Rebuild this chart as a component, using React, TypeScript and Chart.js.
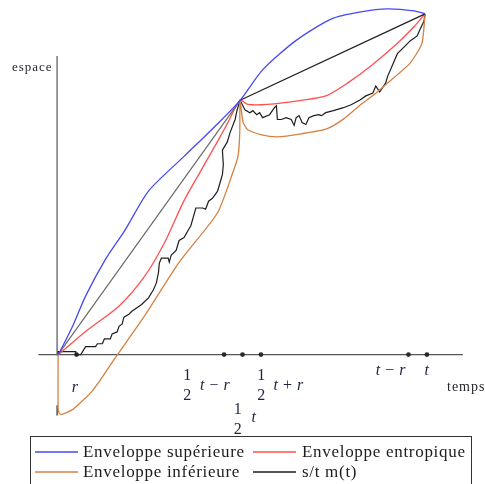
import { useEffect, useRef } from "react";
import { Chart, registerables } from "chart.js";

Chart.register(...registerables);

type Pt = [number, number];

// Space-time paths (time on x, space on y); r = 1, t = 20.
const upperEnvelope: Pt[] = [
  [0, 0], [0.11, 0.19], [0.8, 1.57], [1.49, 3.17], [2.56, 5.15], [3.63, 6.75],
  [4.91, 8.88], [6.83, 10.75], [8.64, 12.51], [9.87, 13.79], [11.09, 15.44],
  [12.91, 17.04], [14.83, 18.21], [16.43, 18.59], [17.87, 18.75], [19.31, 18.64],
  [19.9, 18.48],
];

const entropicEnvelope: Pt[] = [
  [0, 0], [0.11, 0.08], [1.49, 1.25], [3.31, 2.64], [4.69, 4.24], [5.76, 6.05],
  [6.83, 8.35], [7.73, 9.95], [8.64, 11.55], [9.17, 12.51], [9.87, 13.79],
  [10.29, 13.57], [11.36, 13.57], [13.17, 13.79], [14.56, 14.05], [15.73, 14.75],
  [16.96, 15.65], [18.4, 16.88], [19.31, 17.79], [19.9, 18.48],
];

const lowerEnvelope: Pt[] = [
  [0, 0], [0, -2.9], [0.05, -3.15], [0.16, -3.25], [0.8, -2.97], [1.87, -1.95],
  [3.09, -0.19], [4.69, 2.1], [6.56, 5.0], [8.64, 7.68], [9.5, 9.94],
  [9.76, 10.79], [9.85, 12.0], [9.87, 13.79], [10.03, 12.61], [10.29, 12.19],
  [11.04, 11.92], [11.89, 11.81], [13.17, 11.97], [14.56, 12.24], [15.47, 12.77],
  [16.37, 13.52], [17.07, 14.05], [17.76, 14.64], [19.09, 15.81], [19.73, 16.88],
  [19.9, 18.48],
];

const trajectory: Pt[] = [
  [0, 0], [0, 0.16], [0.96, 0.16], [0.96, 0], [1.23, 0], [1.49, 0.43], [2.03, 0.43],
  [2.13, 0.59], [2.4, 0.59], [2.51, 0.85], [2.83, 0.85], [2.93, 1.12], [3.2, 1.23],
  [3.31, 1.55], [3.47, 1.65], [3.57, 2.03], [3.84, 2.19], [4.0, 2.35], [4.53, 2.72],
  [4.91, 3.09], [5.17, 3.52], [5.33, 3.89], [5.44, 4.43], [5.49, 4.96], [5.6, 5.23],
  [5.97, 5.23], [6.03, 5.01], [6.13, 5.39], [6.4, 5.65], [6.56, 6.19], [6.83, 6.35],
  [7.04, 6.72], [7.2, 6.99], [7.47, 7.95], [7.84, 7.95], [8.0, 7.89], [8.16, 8.32],
  [8.37, 8.48], [8.64, 8.85], [8.69, 9.01], [8.91, 9.76], [8.96, 10.29], [8.91, 11.09],
  [9.17, 11.52], [9.33, 12.05], [9.6, 12.75], [9.71, 13.28], [9.87, 13.79],
  [10.13, 13.28], [10.4, 13.12], [10.56, 13.23], [10.77, 13.01], [10.93, 13.12],
  [11.09, 12.85], [11.47, 13.01], [11.73, 13.39], [11.84, 13.49], [11.89, 12.75],
  [12.11, 12.75], [12.37, 12.85], [12.64, 12.75], [12.8, 12.43], [12.91, 12.85],
  [13.07, 12.96], [13.23, 12.59], [13.44, 12.48], [13.6, 12.85], [13.87, 12.96],
  [14.13, 13.01], [14.29, 12.96], [14.51, 13.12], [14.93, 13.23], [15.47, 13.39],
  [15.89, 13.55], [16.37, 13.81], [16.69, 14.03], [17.07, 14.19], [17.23, 14.56],
  [17.44, 14.24], [17.76, 14.72], [17.87, 15.09], [18.4, 16.32], [18.77, 16.69],
  [19.09, 17.01], [19.47, 17.28], [19.63, 17.65], [19.84, 18.08], [19.9, 18.48],
];

const chord: Pt[] = [[0, 0], [9.87, 13.79], [19.9, 18.48]];

// Marked instants on the time axis: r, t/2 - r, t/2, t/2 + r, t - r, t
const markedTimes = [1, 9, 10, 11, 19, 20];

const legendItems = [
  { label: "Enveloppe supérieure", color: "rgb(72,72,245)" },
  { label: "Enveloppe entropique", color: "rgb(255,80,80)" },
  { label: "Enveloppe inférieure", color: "rgb(214,128,66)" },
  { label: "s/t m(t)", color: "#1e1e1e" },
];

const SERIF = "'Liberation Serif', 'Times New Roman', serif";
const INK = "#1d2440";

const toXY = (pts: Pt[]) => pts.map(([x, y]) => ({ x, y }));

type Part = [string, boolean];

function drawParts(ctx: CanvasRenderingContext2D, parts: Part[], x: number, y: number, size: number, align: "left" | "center") {
  let total = 0;
  for (const [text, italic] of parts) {
    ctx.font = `${italic ? "italic " : ""}${size}px ${SERIF}`;
    total += ctx.measureText(text).width;
  }
  let cx = align === "center" ? x - total / 2 : x;
  ctx.textAlign = "left";
  ctx.textBaseline = "middle";
  for (const [text, italic] of parts) {
    ctx.font = `${italic ? "italic " : ""}${size}px ${SERIF}`;
    ctx.fillText(text, cx, y);
    cx += ctx.measureText(text).width;
  }
}

function drawHalf(ctx: CanvasRenderingContext2D, cx: number, yTop: number) {
  drawParts(ctx, [["1", false]], cx, yTop, 16, "center");
  drawParts(ctx, [["2", false]], cx, yTop + 20, 16, "center");
}

const figurePlugin = {
  id: "figureOverlay",
  beforeDatasetsDraw(chart: any) {
    const { ctx } = chart;
    const xs = chart.scales.x;
    const ys = chart.scales.y;
    const x0 = xs.getPixelForValue(0);
    const y0 = ys.getPixelForValue(0);
    ctx.save();
    // time axis
    ctx.strokeStyle = "#555";
    ctx.lineWidth = 1.3;
    ctx.beginPath();
    ctx.moveTo(xs.getPixelForValue(-1.07), y0);
    ctx.lineTo(xs.getPixelForValue(21.95), y0);
    ctx.stroke();
    // space axis
    ctx.strokeStyle = "#777";
    ctx.lineWidth = 1.5;
    ctx.beginPath();
    ctx.moveTo(x0 - 1, y0 + 1);
    ctx.lineTo(x0 - 1, ys.getPixelForValue(16.2));
    ctx.stroke();
    ctx.strokeStyle = "#222";
    ctx.lineWidth = 1.2;
    ctx.beginPath();
    ctx.moveTo(x0 - 1, ys.getPixelForValue(-2.75));
    ctx.lineTo(x0 - 1, ys.getPixelForValue(-3.3));
    ctx.stroke();
    ctx.restore();
  },
  afterDatasetsDraw(chart: any) {
    const { ctx } = chart;
    const xs = chart.scales.x;
    const ys = chart.scales.y;
    const y0 = ys.getPixelForValue(0);
    const px = (v: number) => xs.getPixelForValue(v);
    ctx.save();

    // axis titles
    ctx.fillStyle = "#2a2530";
    ctx.letterSpacing = "1px";
    ctx.font = `13px ${SERIF}`;
    ctx.textAlign = "left";
    ctx.textBaseline = "alphabetic";
    ctx.fillText("espace", 12, 71);
    ctx.font = `14px ${SERIF}`;
    ctx.fillText("temps", 447, 391);

    // time labels
    ctx.letterSpacing = "0.5px";
    ctx.fillStyle = INK;
    drawParts(ctx, [["r", true]], px(1) - 1.5, y0 + 33, 16, "center");

    drawHalf(ctx, px(9) - 36.5, y0 + 21.5);
    drawParts(ctx, [["t", true], [" − ", false], ["r", true]], px(9) - 24, y0 + 31.5, 16, "left");

    drawHalf(ctx, px(11) + 0.5, y0 + 21.5);
    drawParts(ctx, [["t", true], [" + ", false], ["r", true]], px(11) + 12.5, y0 + 31.5, 16, "left");

    drawHalf(ctx, px(10) - 4.5, y0 + 55);
    drawParts(ctx, [["t", true]], px(10) + 9, y0 + 63, 16, "left");

    drawParts(ctx, [["t", true], [" − ", false], ["r", true]], px(19) - 17.5, y0 + 16.5, 16, "center");
    drawParts(ctx, [["t", true]], px(20), y0 + 16.5, 16, "center");

    // legend box
    ctx.letterSpacing = "0.7px";
    ctx.strokeStyle = "#333";
    ctx.lineWidth = 1;
    ctx.strokeRect(30.5, 436.5, 441, 70);
    const cols = [{ lx: 35, tx: 83 }, { lx: 253, tx: 302 }];
    const rows = [452, 472];
    legendItems.forEach((item, i) => {
      const c = cols[i % 2];
      const r = rows[Math.floor(i / 2)];
      ctx.strokeStyle = item.color;
      ctx.lineWidth = 1.6;
      ctx.beginPath();
      ctx.moveTo(c.lx, r);
      ctx.lineTo(c.lx + 43, r);
      ctx.stroke();
      ctx.fillStyle = "#1c1c1c";
      ctx.font = `17px ${SERIF}`;
      ctx.textAlign = "left";
      ctx.textBaseline = "alphabetic";
      ctx.fillText(item.label, c.tx, r + 5);
    });
    ctx.restore();
  },
};

export default function App() {
  const canvasRef = useRef<HTMLCanvasElement | null>(null);

  useEffect(() => {
    document.body.style.margin = "0";
    const canvas = canvasRef.current;
    if (!canvas) return;
    const curve = (data: Pt[], color: string, tension: number, width = 1.3) => ({
      data: toXY(data),
      borderColor: color,
      borderWidth: width,
      pointRadius: 0,
      tension,
      fill: false,
      clip: false as const,
    });
    const chart = new Chart(canvas, {
      type: "line",
      data: {
        datasets: [
          curve(upperEnvelope, legendItems[0].color, 0.25),
          {
            ...curve(chord, "#222", 0, 1.2),
            segment: {
              borderColor: (c: any) => (c.p0DataIndex === 0 ? "#6a6a6a" : "#1e1e1e"),
            },
          },
          curve(entropicEnvelope, legendItems[1].color, 0.25),
          curve(lowerEnvelope, legendItems[2].color, 0.2),
          curve(trajectory, legendItems[3].color, 0, 1.2),
          {
            data: markedTimes.map((x) => ({ x, y: 0 })),
            showLine: false,
            pointRadius: 2.4,
            pointBackgroundColor: "#2a2a2a",
            pointBorderWidth: 0,
            clip: false as const,
          },
        ],
      },
      options: {
        responsive: false,
        animation: false,
        layout: { padding: 0 },
        scales: {
          x: { type: "linear", min: -2.9333, max: 22.9333, display: false },
          y: { type: "linear", min: -6.8, max: 19.0133, display: false },
        },
        plugins: {
          legend: { display: false },
          tooltip: { enabled: false },
        },
      },
      plugins: [figurePlugin],
    });
    return () => chart.destroy();
  }, []);

  return (
    <div style={{ position: "fixed", left: 0, top: 0, width: 485, height: 484, background: "#fff" }}>
      <canvas ref={canvasRef} width={485} height={484} />
    </div>
  );
}
